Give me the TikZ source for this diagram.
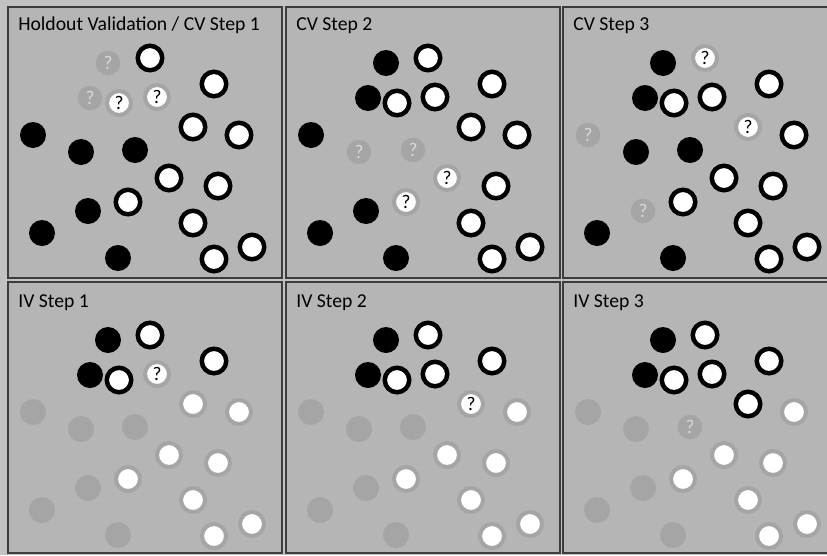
\documentclass[tikz,border=0pt]{standalone}
\usepackage{fontspec}
\setmainfont{Carlito}
\usepackage{xcolor}
\usetikzlibrary{calc}
\definecolor{backdrop}{HTML}{C2C2C2}
\definecolor{panelgray}{HTML}{B5B5B5}
\definecolor{framegray}{HTML}{3C3C3C}
\definecolor{fadegray}{HTML}{A5A5A5}
\definecolor{qlight}{HTML}{D8D8D8}

\tikzset{
  dot/.style={circle, inner sep=0pt, minimum size=0.52cm},
  blk/.style={dot, fill=black},
  wht/.style={dot, fill=white, draw=black, line width=0.09cm, minimum size=0.49cm},
  fblk/.style={dot, fill=fadegray},
  fwht/.style={dot, fill=white, draw=fadegray, line width=0.08cm, minimum size=0.48cm},
  qmark/.style={font=\fontsize{11}{12}\selectfont, inner sep=0pt},
  qblk/.style={fblk, minimum size=0.49cm, label={[qmark, text=qlight]center:?}},
  qwht/.style={fwht, label={[qmark]center:?}},
  paneltitle/.style={font=\fontsize{11.2}{13}\selectfont, anchor=base west, inner sep=0pt},
}

\begin{document}
\begin{tikzpicture}[x=0.02cm, y=-0.02cm]
    \useasboundingbox (0,0) rectangle (827,555);
    \clip (0,0) rectangle (827,555);
    \fill[backdrop] (0,0) rectangle (827,555);
    % data points, placed for the first panel
    \foreach \p/\x/\y in {A/108/63, B/150/58, C/214/84, D/90/98, E/119/103,
        F/157/97, G/193/127, H/239/135, I/33/135, J/81/152, K/135/150,
        L/169/178, M/218/186, N/88/211, O/128/202, P/42/233, Q/193/223,
        R/252/247, S/118/258, T/214/259}
      \coordinate (\p) at (\x,\y);
    \foreach \dx/\dy/\title/\pts [count=\k] in {
        0/0/{Holdout Validation / CV Step 1}/{A/qblk, B/wht, C/wht, D/qblk, E/qwht, F/qwht, G/wht, H/wht, I/blk, J/blk, K/blk, L/wht, M/wht, N/blk, O/wht, P/blk, Q/wht, R/wht, S/blk, T/wht},
        278/0/{CV Step 2}/{A/blk, B/wht, C/wht, D/blk, E/wht, F/wht, G/wht, H/wht, I/blk, J/qblk, K/qblk, L/qwht, M/wht, N/blk, O/qwht, P/blk, Q/wht, R/wht, S/blk, T/wht},
        555/0/{CV Step 3}/{A/blk, B/qwht, C/wht, D/blk, E/wht, F/wht, G/qwht, H/wht, I/qblk, J/blk, K/blk, L/wht, M/wht, N/qblk, O/wht, P/blk, Q/wht, R/wht, S/blk, T/wht},
        0/277/{IV Step 1}/{A/blk, B/wht, C/wht, D/blk, E/wht, F/qwht, G/fwht, H/fwht, I/fblk, J/fblk, K/fblk, L/fwht, M/fwht, N/fblk, O/fwht, P/fblk, Q/fwht, R/fwht, S/fblk, T/fwht},
        278/277/{IV Step 2}/{A/blk, B/wht, C/wht, D/blk, E/wht, F/wht, G/qwht, H/fwht, I/fblk, J/fblk, K/fblk, L/fwht, M/fwht, N/fblk, O/fwht, P/fblk, Q/fwht, R/fwht, S/fblk, T/fwht},
        555/277/{IV Step 3}/{A/blk, B/wht, C/wht, D/blk, E/wht, F/wht, G/wht, H/fwht, I/fblk, J/fblk, K/qblk, L/fwht, M/fwht, N/fblk, O/fwht, P/fblk, Q/fwht, R/fwht, S/fblk, T/fwht}} {
      \draw[framegray, line width=0.035cm, fill=panelgray] (8+\dx, {7+\dy-2*\dy/277}) rectangle +(274,271);
      \node[paneltitle] (title\k) at (18+\dx, 30+\dy) {\title};
      \foreach \p/\s in \pts
        \node[\s] (pt\k\p) at ($(\p)+(\dx,\dy)$) {};
    }
  \end{tikzpicture}
\end{document}
